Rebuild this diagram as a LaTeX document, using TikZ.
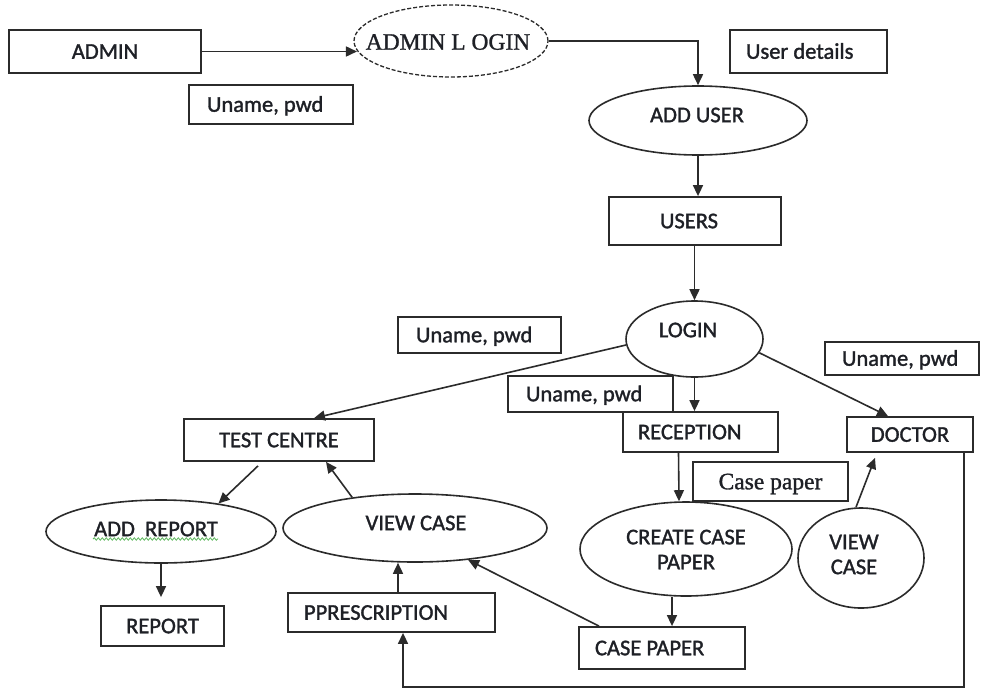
\documentclass[tikz,border=0pt]{standalone}
\usepackage{fontspec}
\setmainfont{Carlito}[FakeBold=1.4]
\newfontfamily\timesface{Liberation Serif}[FakeBold=1.2]
\usetikzlibrary{shapes.geometric,arrows.meta,decorations.pathmorphing}
\definecolor{ink}{HTML}{2B2B2B}
\definecolor{txtc}{HTML}{1E2026}
\definecolor{spell}{HTML}{5DB85D}
\frenchspacing
% text set flush left inside a box of given width
\newcommand{\leftin}[2]{\makebox[#1][l]{#2}}

\begin{document}
\begin{tikzpicture}[x=1pt,y=-1pt,
  every node/.style={font=\fontsize{22.5}{25}\selectfont, text=txtc},
  box/.style={draw=ink, line width=1.8pt, rectangle, inner sep=0pt, text height=14.5pt, text depth=0pt},
  ell/.style={draw=ink, line width=1.6pt, ellipse, inner sep=0pt},
  serifcap/.style={font=\timesface\fontsize{23.5}{25}\selectfont},
  flow/.style={draw=ink, line width=1.6pt, -{Triangle[length=11pt,width=10pt]}},
]
\fill[white] (0,0) rectangle (981,688);
\useasboundingbox (0,0) rectangle (981,688);

% administrator part
\node[box, minimum width=192pt, minimum height=43pt] (admin) at (105,51.5) {ADMIN};
\node[box, minimum width=164pt, minimum height=39pt] (unameA) at (271,104.5) {\leftin{128pt}{Uname, pwd}};
\node[ell, dash pattern=on 4pt off 2pt, line width=1.3pt, minimum width=194pt, minimum height=72pt,
      label={[serifcap, xshift=-3pt, yshift=-1pt]center:ADMIN L OGIN}] (adminlogin) at (451,41) {};
\node[box, minimum width=157pt, minimum height=43pt] (userdetails) at (808.5,51.5) {\leftin{125pt}{User details}};
\node[ell, minimum width=218pt, minimum height=69pt,
      label={[xshift=-1pt, yshift=5.5pt]center:ADD USER}] (adduser) at (698,120.5) {};
\node[box, minimum width=172pt, minimum height=48pt] (users) at (695,221) {\leftin{70pt}{USERS}};

% login and roles
\node[ell, minimum width=137pt, minimum height=76pt,
      label={[xshift=-6.5pt, yshift=9pt]center:LOGIN}] (login) at (694.5,339) {};
\node[box, minimum width=163pt, minimum height=36pt] (unameB) at (479.5,335) {\leftin{127pt}{Uname, pwd}};
\node[box, minimum width=154pt, minimum height=33pt] (unameC) at (902,358.5) {\leftin{120pt}{Uname, pwd}};
\node[box, minimum width=165pt, minimum height=36pt] (unameD) at (590.5,394) {\leftin{129pt}{Uname, pwd}};
\node[box, minimum width=155pt, minimum height=40pt] (reception) at (700.5,432) {\leftin{125pt}{RECEPTION}};
\node[box, minimum width=126pt, minimum height=35pt] (doctor) at (910,434.5) {DOCTOR};
\node[box, minimum width=190pt, minimum height=42pt] (testcentre) at (279,440) {TEST CENTRE};
\node[box, serifcap, text height=15.5pt, minimum width=155pt, minimum height=39pt] (casepaperflow) at (770.5,481.5) {Case paper};

% processes and stores
\node[ell, minimum width=230pt, minimum height=63pt,
      label={[xshift=-5pt, yshift=2.5pt]center:ADD\ \ REPORT}] (addreport) at (161,531.5) {};
\node[ell, minimum width=264pt, minimum height=68pt,
      label={[xshift=1pt, yshift=5pt]center:VIEW CASE}] (viewcase) at (415,528) {};
\node[ell, minimum width=212pt, minimum height=94pt,
      label={[align=center, yshift=-0.5pt]center:{CREATE CASE\\PAPER}}] (createcase) at (686,549) {};
\node[ell, minimum width=126pt, minimum height=100pt,
      label={[align=center, xshift=-7pt, yshift=3.5pt]center:{VIEW\\CASE}}] (viewcasedoc) at (861,558) {};
\node[box, minimum width=123pt, minimum height=40pt] (report) at (162.5,626) {REPORT};
\node[box, minimum width=207pt, minimum height=39pt] (prescription) at (391.5,612.5) {\leftin{175pt}{PPRESCRIPTION}};
\node[box, minimum width=166pt, minimum height=42pt] (casepaper) at (662,648) {\leftin{134pt}{CASE PAPER}};

% spell-check squiggle under the report label
\draw[spell, line width=0.8pt, decorate, decoration={snake, amplitude=1.2pt, segment length=4pt}]
  ([xshift=-68pt, yshift=-7.5pt]addreport.center) -- ([xshift=57pt, yshift=-7.5pt]addreport.center);

% connectors
\draw[flow] (admin.east) -- (admin.east -| adminlogin.186);
\draw[flow] (adminlogin.east) -| (adduser.north);
\draw[flow] (adduser.south) -- (adduser.south |- users.north);
\draw[flow] (login.north |- users.south) -- (login.north);
\draw[flow] (login.185) -- ([xshift=35pt]testcentre.north);
\draw[flow] (login.south) -- (login.south |- reception.north);
\draw[flow] (login.-12) -- ([xshift=-22pt]doctor.north);
\draw[flow] ([xshift=-22pt]reception.south) -- ([xshift=-7pt]createcase.north);
\draw[flow] ([xshift=-14pt]createcase.south) -- ([xshift=10pt]casepaper.north);
\draw[flow] ([xshift=-63pt]casepaper.north) -- (viewcase.-31.6);
\draw[flow] ([xshift=6.5pt]prescription.north) -- ([xshift=6.5pt]prescription.north |- viewcase.south);
\draw[flow] (viewcase.154.6) -- ([xshift=47pt]testcentre.south);
\draw[flow] ([xshift=-21pt, yshift=-4pt]testcentre.south) -- (addreport.26);
\draw[flow] (addreport.south) -- ([yshift=8pt]addreport.south |- report.north);
\draw[flow] ([xshift=-5pt]viewcasedoc.north) -- ([xshift=-35pt, yshift=-5pt]doctor.south);
\coordinate (bottomrun) at (0,687);
\draw[flow] ([xshift=-10pt]doctor.south east) |- ([xshift=11.5pt]prescription.south |- bottomrun)
  -- ([xshift=11.5pt]prescription.south);
\end{tikzpicture}
\end{document}
